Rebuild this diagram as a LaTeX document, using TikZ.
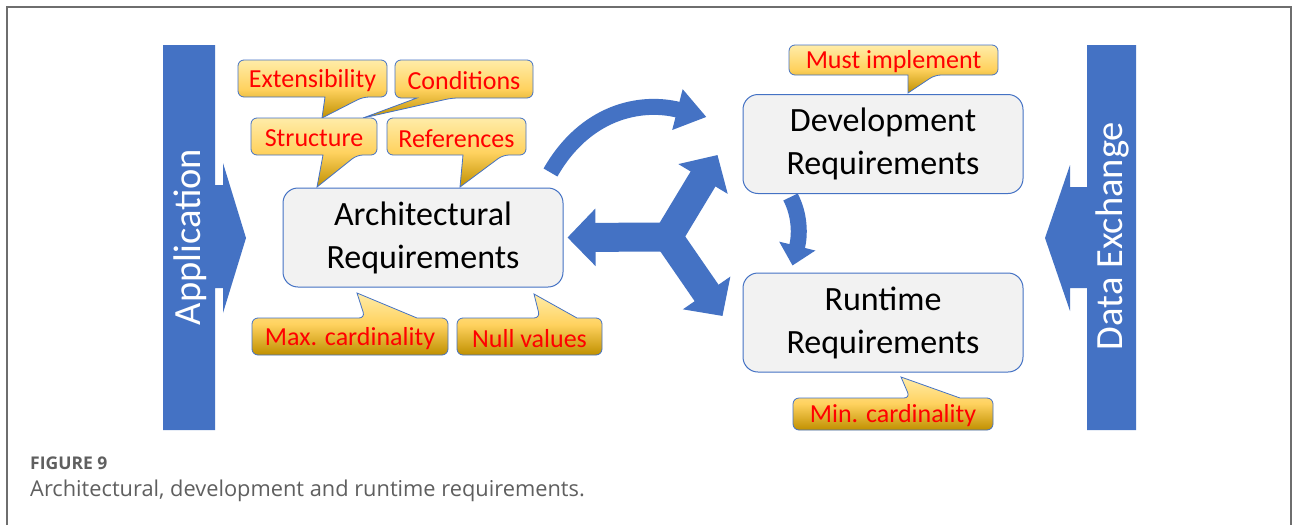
\documentclass[tikz,border=0pt]{standalone}
\usepackage{fontspec}
\setmainfont{Carlito}
\newfontfamily\capfont{Open Sans}
\usetikzlibrary{arrows.meta,calc}

\definecolor{officeblue}{RGB}{68,114,196}
\definecolor{boxgray}{RGB}{242,242,242}
\definecolor{goldtop}{RGB}{255,236,168}
\definecolor{goldmid}{RGB}{255,210,95}
\definecolor{goldbot}{RGB}{192,144,0}
\definecolor{capgray}{RGB}{95,95,95}
\definecolor{framegray}{RGB}{110,110,110}

\tikzset{
  reqbox/.style={draw=officeblue, line width=1pt, fill=boxgray, rounded corners=15pt,
    minimum width=280pt, minimum height=99pt, align=center, font=\fontsize{34}{43}\selectfont},
  bubble/.style={draw=officeblue, line width=0.8pt, top color=goldtop, bottom color=goldbot,
    middle color=goldmid, rounded corners=6pt},
  bubtext/.style={text=red, font=\fontsize{26}{30}\selectfont, inner sep=0pt, yshift=-2pt},
  bartext/.style={text=white, rotate=90, font=\fontsize{38.5}{40}\selectfont, inner sep=0pt},
  thinarrow/.style={officeblue, line width=16pt},
  fatarrow/.style={officeblue, line width=29pt, -{Triangle[length=28pt,width=56pt]}},
}

% speech bubble, tail on the lower edge: left, top, right, bottom, tail x1, tail x2, tip
\newcommand\bubbledown[7]{%
  \shade[bubble] (#1,{(#2+#4)/2}) -- (#1,#2) -- (#3,#2) -- (#3,#4) -- (#6,#4)
    [sharp corners] -- (#7) -- (#5,#4) [rounded corners=6pt] -- (#1,#4) -- cycle;}
% speech bubble, tail on the upper edge
\newcommand\bubbleup[7]{%
  \shade[bubble] (#1,{(#2+#4)/2}) -- (#1,#2) -- (#5,#2)
    [sharp corners] -- (#7) -- (#6,#2) [rounded corners=6pt] -- (#3,#2) -- (#3,#4) -- (#1,#4) -- cycle;}

\begin{document}
\begin{tikzpicture}[x=1pt, y=-1pt]
    \useasboundingbox (0,0) rectangle (1293,525);
    \fill[white] (0,0) rectangle (1293,525);
    \draw[framegray, line width=1.5pt] (7,525) -- (7,7) -- (1291,7) -- (1291,525);

    \node[reqbox] (arch) at (423,237.5) {Architectural\\Requirements};
    \node[reqbox] (dev) at (883,144) {Development\\Requirements};
    \node[reqbox] (run) at (883,322.5) {Runtime\\Requirements};

    \fill[officeblue] (163,45) -- (215,45) -- (215,185) -- (223,185) -- (223,163) -- (246,238)
        -- (223,313) -- (223,288) -- (215,288) -- (215,430) -- (163,430) -- cycle;
    \node[bartext] (app) at (190,237) {Application};
    \fill[officeblue] (1136,45) -- (1087,45) -- (1087,187) -- (1070,187) -- (1070,165) -- (1045,238)
        -- (1070,311) -- (1070,288) -- (1087,288) -- (1087,430) -- (1136,430) -- cycle;
    \node[bartext] (dex) at (1112,236) {Data Exchange};

    \coordinate (arcs) at ($(arch.north east)+(-13,-15)$);
    \coordinate (arce) at ($(dev.west)+(-36,-27)$);
    \draw[thinarrow, -{Triangle[length=30pt,width=40pt]}] (arcs) .. controls (585,112) and (640,100) .. (arce);
    \coordinate (dvs) at ($(dev.south west)+(48,3)$);
    \coordinate (dve) at ($(run.north west)+(50,-7)$);
    \draw[thinarrow, -{Triangle[length=20pt,width=36pt]}] (dvs) .. controls (800,215) and (800,235) .. (dve);

    \coordinate (yj) at (668,237);
    \draw[fatarrow] (yj) -- ($(arch.east)+(4,0)$);
    \draw[fatarrow] (yj) -- ($(dev.west)+(-25,11)$);
    \draw[fatarrow] (yj) -- ($(run.west)+(-20,-6.5)$);

    \bubbledown{238}{60}{387}{97}{325}{363}{322,118}
    \node[bubtext] (ext) at (312.5,78.5) {Extensibility};
    \bubbledown{395}{60}{533}{98}{417}{452}{363,118}
    \node[bubtext] (cond) at (464,79) {Conditions};
    \bubbledown{251}{118}{377}{155}{323}{357}{317,187}
    \node[bubtext] (struc) at (314,136.5) {Structure};
    \bubbledown{387}{118}{526}{155}{463}{503}{460,187}
    \node[bubtext] (refs) at (456.5,136.5) {References};
    \bubbleup{252}{318}{448}{355}{365}{417}{357,293}
    \node[bubtext] (maxcard) at (350,336.5) {Max. cardinality};
    \bubbleup{457}{318}{602}{355}{540}{577}{534,294}
    \node[bubtext] (nullval) at (529.5,336.5) {Null values};
    \bubbledown{789}{45}{998}{75}{908}{935}{908,93}
    \node[bubtext] (mustimpl) at (893.5,60) {Must implement};
    \bubbleup{793}{398}{993}{430}{910}{960}{901,377}
    \node[bubtext] (mincard) at (893,414) {Min. cardinality};

    \node[anchor=base west, inner sep=0pt, text=capgray, font=\capfont\bfseries\fontsize{17.5}{20}\selectfont] (fig) at (30,469) {FIGURE 9};
    \node[anchor=base west, inner sep=0pt, text=capgray, font=\capfont\fontsize{21.8}{26}\selectfont] (cap) at (30,496) {Architectural, development and runtime requirements.};
\end{tikzpicture}
\end{document}
